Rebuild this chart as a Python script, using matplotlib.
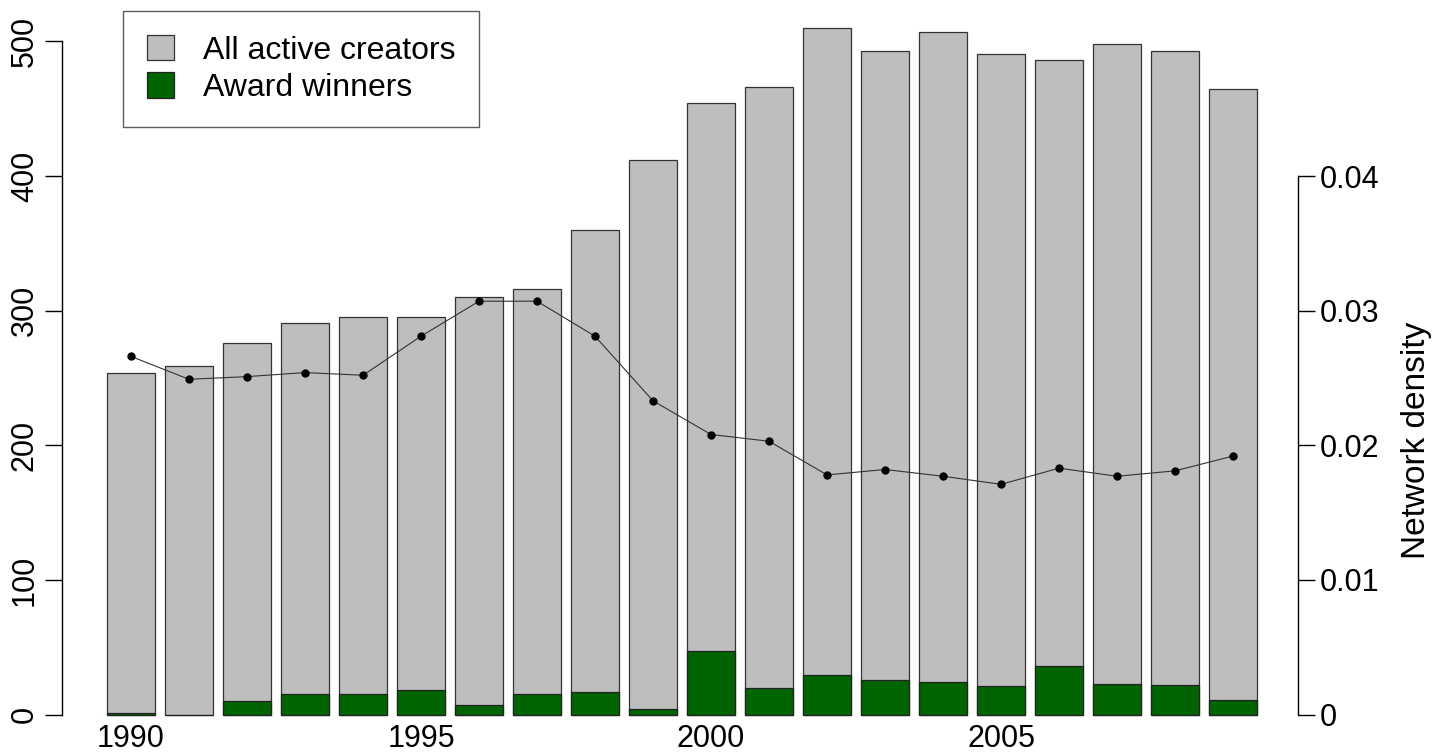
import matplotlib
matplotlib.use('Agg')
import matplotlib.pyplot as plt
import numpy as np

plt.rcParams['font.family'] = ['Liberation Sans', 'DejaVu Sans']

years = list(range(1990, 2010))
all_active = [254, 259, 276, 291, 295, 295, 310, 316, 360, 412,
              454, 466, 510, 493, 507, 491, 486, 498, 493, 465]
winners = [1, 0, 10, 15, 15, 18, 7, 15, 17, 4,
           47, 20, 29, 26, 24, 21, 36, 23, 22, 11]
density = [0.0266, 0.0249, 0.0251, 0.0254, 0.0252, 0.0281, 0.0307, 0.0307, 0.0281, 0.0233,
           0.0208, 0.0203, 0.0178, 0.0182, 0.0177, 0.0171, 0.0183, 0.0177, 0.0181, 0.0192]
xlabels = ['1990', '1995', '2000', '2005']

W, H = 1436, 753
fig = plt.figure(figsize=(W/100, H/100), dpi=100)
# plot region in pixels
left, right, top, bottom = 62, 1298, 1, 728
ax = fig.add_axes([left/W, 1-bottom/H, (right-left)/W, (bottom-top)/H])

x = np.arange(len(years))
ax.bar(x, all_active, width=0.83, color='#bebebe', edgecolor='#333333', linewidth=0.9,
       label='All active creators')
ax.bar(x, winners, width=0.83, color='#006400', edgecolor='#222222', linewidth=0.9,
       label='Award winners')

ax.set_xlim(-1.19, 20.12)
ax.set_ylim(-10, 530)
for s in ['top', 'right', 'bottom']:
    ax.spines[s].set_visible(False)
ax.spines['left'].set_bounds(0, 500)
ax.spines['left'].set_linewidth(1)
ax.set_yticks([0, 100, 200, 300, 400, 500])
ax.set_yticklabels(['0', '100', '200', '300', '400', '500'], rotation=90, va='center')
ax.tick_params(axis='y', length=12, width=1, labelsize=22, pad=4)
ax.set_xticks([0, 5, 10, 15])
ax.set_xticklabels(xlabels)
ax.tick_params(axis='x', length=0, labelsize=22, pad=-3)

ax2 = ax.twinx()
ax2.set_ylim(-10/10000, 530/10000)
ax2.plot(x, density, color='#333333', linewidth=0.8, marker='o', markersize=5,
         markerfacecolor='black', markeredgecolor='black')
for s in ['top', 'left', 'bottom']:
    ax2.spines[s].set_visible(False)
ax2.spines['right'].set_bounds(0, 0.04)
ax2.spines['right'].set_linewidth(1)
ax2.set_yticks([0, 0.01, 0.02, 0.03, 0.04])
ax2.set_yticklabels(['0', '0.01', '0.02', '0.03', '0.04'])
ax2.tick_params(axis='y', length=12, width=1, labelsize=22, pad=4)
ax2.set_ylabel('Network density', fontsize=24)
ax2.yaxis.set_label_coords(1.083, 0.396)

leg = ax.legend(loc='upper left', bbox_to_anchor=(123/W, 1-11/H), bbox_transform=fig.transFigure,
                fontsize=23, frameon=True, fancybox=False, edgecolor='#333333',
                handlelength=0.85, handleheight=0.85, handletextpad=0.9,
                borderpad=0.75, labelspacing=0.2, borderaxespad=0)
leg.get_frame().set_linewidth(1)

fig.savefig('out.png', dpi=100)
